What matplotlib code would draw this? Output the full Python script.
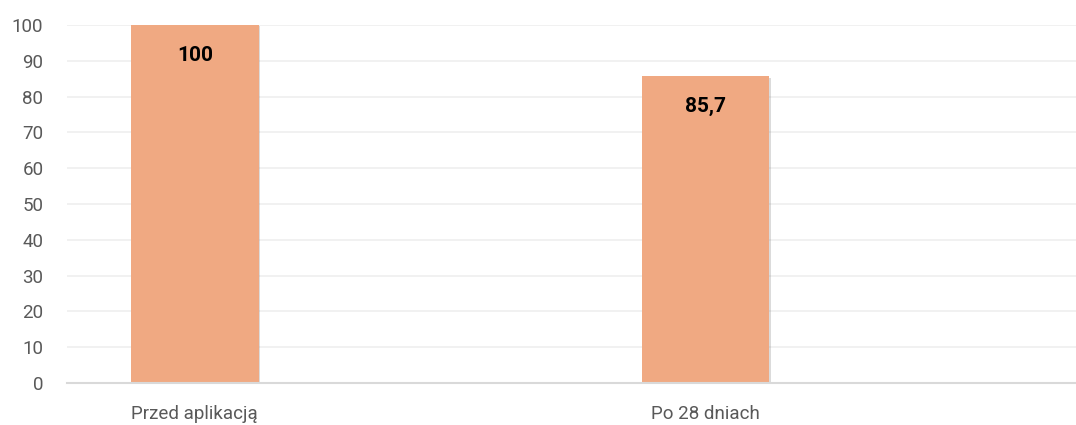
import matplotlib.pyplot as plt
import matplotlib.patheffects as pe

plt.rcParams['font.family'] = ['Roboto', 'DejaVu Sans']

categories = ["Przed aplikacją", "", "Po 28 dniach", ""]
values = [100, 0, 85.7, 0]
labels = ["100", "", "85,7", ""]
yticks = [0, 10, 20, 30, 40, 50, 60, 70, 80, 90, 100]

fig = plt.figure(figsize=(10.76, 4.25), dpi=100)
ax = fig.add_axes([0.0623, 0.0988, 0.9377, 0.8424])

pos = [0, 2]
vals = [values[0], values[2]]
bars = ax.bar(pos, vals, width=0.5, color="#F0A982", zorder=3)
for b in bars:
    b.set_path_effects([pe.SimplePatchShadow(offset=(1, -1), shadow_rgbFace="#888888", alpha=0.3), pe.Normal()])

for p, v, t in zip(pos, vals, [labels[0], labels[2]]):
    ax.annotate(t, (p, v), xytext=(0, -15), textcoords="offset points",
                ha="center", va="top", fontsize=15, fontweight="bold", color="black", zorder=4)

ax.set_xlim(-0.5, 3.45)
ax.set_ylim(0, 100)
ax.set_yticks(yticks)
ax.set_xticks(range(len(categories)))
ax.set_xticklabels(categories)
ax.tick_params(axis="both", length=0, labelsize=13.5, colors="#595959")
ax.tick_params(axis="x", pad=16)
ax.tick_params(axis="y", pad=17)
ax.grid(axis="y", color="#EFEFEF", linewidth=1.2, zorder=0)
for s in ["top", "right", "left"]:
    ax.spines[s].set_visible(False)
ax.spines["bottom"].set_color("#D9D9D9")
ax.spines["bottom"].set_linewidth(1.5)
ax.spines["bottom"].set_zorder(4)

fig.savefig("out.png", dpi=100)
